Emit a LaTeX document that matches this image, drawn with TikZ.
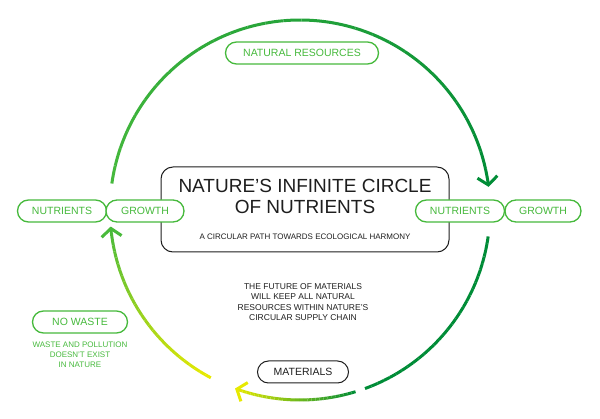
\documentclass[tikz,border=0pt]{standalone}
\usepackage{fontspec}
\setmainfont{Liberation Sans}
\usetikzlibrary{arrows.meta}
\definecolor{dg}{RGB}{0,140,55}
\definecolor{lg}{RGB}{70,185,60}
\definecolor{yl}{RGB}{235,235,0}
\definecolor{tx}{RGB}{30,30,30}
\tikzset{
 pill/.style={draw=lg,line width=1.3pt,rounded corners=11pt,minimum height=22pt,inner sep=0pt,text=lg,font=\fontsize{10.5}{10.5}\selectfont},
 bpill/.style={pill,draw=tx,text=tx,line width=1pt},
 arc/.style={line width=3pt},
 tip/.style={-{Straight Barb[length=8pt,width=20pt,line width=3pt]}}
}
\newcommand{\gradarc}[5]{% from math angle, to math angle, col start, col end, tip
 \foreach \i in {0,...,29}{
  \pgfmathsetmacro{\aa}{#1+(#2-#1)*\i/30}
  \pgfmathsetmacro{\ab}{#1+(#2-#1)*(\i+1)/30}
  \pgfmathsetmacro{\pp}{100-100*(\i+0.5)/30}
  \colorlet{cc}{#3!\pp!#4}
  \ifnum\i=29
   \draw[arc,cc,#5] ({300+190*cos(\aa)},{210-190*sin(\aa)}) arc[start angle=-\aa,end angle=-\ab,radius=190];
  \else
   \draw[arc,cc,line cap=butt] ({300+190*cos(\aa)},{210-190*sin(\aa)}) arc[start angle=-\aa,end angle=-\ab,radius=190];
  \fi
 }}
\begin{document}
\begin{tikzpicture}[x=1pt,y=-1pt]
\useasboundingbox (0,0) rectangle (600,419);
\gradarc{172}{7}{lg}{dg}{tip}
\gradarc{-8}{-70}{dg}{dg}{}
\gradarc{-73}{-110}{dg}{yl}{tip}
\gradarc{-118}{-175}{yl}{lg}{tip}
\node[draw=tx,line width=1pt,rounded corners=12pt,minimum width=288pt,minimum height=85pt,fill=white] (box) at (305,209.5) {};
\node[pill,minimum width=153pt] (nr) at (302,53) {NATURAL RESOURCES};
\node[pill,minimum width=89pt,fill=white] (n1) at (62,211) {NUTRIENTS};
\node[pill,minimum width=78pt,fill=white] (g1) at (145,211) {GROWTH};
\node[pill,minimum width=89pt,fill=white] (n2) at (460,211) {NUTRIENTS};
\node[pill,minimum width=76pt,fill=white] (g2) at (543,211) {GROWTH};
\node[text=tx,align=center,font=\fontsize{19}{21}\selectfont] (title) at (305,196) {NATURE’S INFINITE CIRCLE\\OF NUTRIENTS};
\node[text=tx,font=\fontsize{8}{8}\selectfont] (sub) at (305,237) {A CIRCULAR PATH TOWARDS ECOLOGICAL HARMONY};
\node[text=tx,align=center,font=\fontsize{8.5}{10.5}\selectfont] (fut) at (303,302) {THE FUTURE OF MATERIALS\\WILL KEEP ALL NATURAL\\RESOURCES WITHIN NATURE’S\\CIRCULAR SUPPLY CHAIN};
\node[bpill,minimum width=91pt] (mat) at (303,372) {MATERIALS};
\node[pill,minimum width=95pt] (nw) at (80,322) {NO WASTE};
\node[text=lg,align=center,font=\fontsize{8}{10}\selectfont] (wp) at (80,355) {WASTE AND POLLUTION\\DOESN’T EXIST\\IN NATURE};
\end{tikzpicture}
\end{document}
